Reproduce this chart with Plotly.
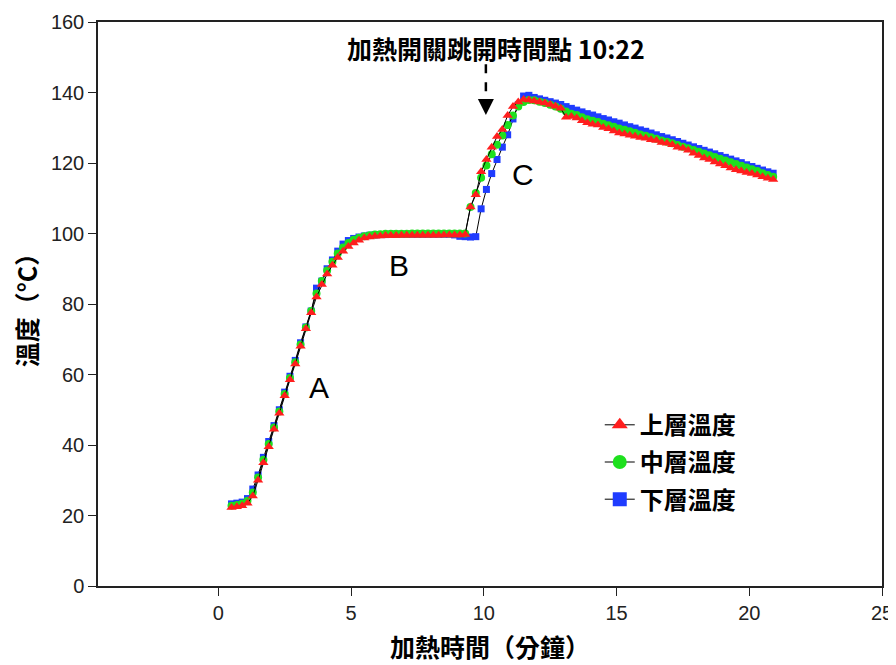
import plotly.graph_objects as go

# Heating time (minutes)
time_min = [0.5, 0.7, 0.9, 1.1, 1.3, 1.5, 1.7, 1.9, 2.1, 2.3,
            2.5, 2.7, 2.9, 3.1, 3.3, 3.5, 3.7, 3.9, 4.1, 4.3,
            4.5, 4.7, 4.9, 5.1, 5.3, 5.5, 5.7, 5.9, 6.1, 6.3,
            6.5, 6.7, 6.9, 7.1, 7.3, 7.5, 7.7, 7.9, 8.1, 8.3,
            8.5, 8.7, 8.9, 9.1, 9.3, 9.5, 9.7, 9.9, 10.1, 10.3,
            10.5, 10.7, 10.9, 11.1, 11.3, 11.5, 11.7, 11.9, 12.1, 12.3,
            12.5, 12.7, 12.9, 13.1, 13.3, 13.5, 13.7, 13.9, 14.1, 14.3,
            14.5, 14.7, 14.9, 15.1, 15.3, 15.5, 15.7, 15.9, 16.1, 16.3,
            16.5, 16.7, 16.9, 17.1, 17.3, 17.5, 17.7, 17.9, 18.1, 18.3,
            18.5, 18.7, 18.9, 19.1, 19.3, 19.5, 19.7, 19.9, 20.1, 20.3,
            20.5, 20.7, 20.9]

# 上層溫度 (top layer)
top_temp = [22.3, 22.5, 22.8, 23.5, 25.5, 30.0, 35.0, 39.5, 44.5, 49.0,
            54.0, 58.5, 63.0, 68.0, 73.0, 77.5, 82.0, 85.5, 88.5, 91.0,
            93.2, 95.0, 96.3, 97.3, 98.1, 98.7, 99.0, 99.2, 99.3, 99.4,
            99.4, 99.4, 99.5, 99.5, 99.5, 99.5, 99.5, 99.5, 99.5, 99.5,
            99.6, 99.6, 99.6, 99.6, 99.7, 107.5, 111.0, 117.5, 121.0, 124.5,
            127.5, 129.5, 133.5, 136.0, 137.3, 138.0, 137.9, 137.6, 137.3, 137.0,
            136.6, 136.1, 135.5, 133.0, 133.2, 132.8, 132.0, 131.4, 131.0, 130.8,
            130.1, 129.7, 129.1, 128.5, 128.2, 127.9, 127.6, 127.2, 127.0, 126.6,
            126.4, 125.8, 125.6, 125.2, 124.5, 124.2, 123.6, 122.8, 122.1, 121.4,
            121.0, 120.3, 119.7, 119.2, 118.6, 118.1, 117.7, 117.3, 117.0, 116.6,
            116.1, 115.7, 115.3]

# 中層溫度 (middle layer)
mid_temp = [22.8, 23.0, 23.3, 24.2, 26.5, 30.8, 35.8, 40.3, 45.0, 49.5,
            54.5, 59.0, 63.5, 68.5, 73.3, 78.0, 83.0, 86.5, 89.5, 92.0,
            94.3, 96.0, 97.3, 98.2, 98.8, 99.2, 99.5, 99.7, 99.8, 99.9,
            99.9, 99.9, 99.9, 99.9, 100.0, 100.0, 100.0, 100.0, 100.0, 100.0,
            100.0, 100.0, 100.0, 100.0, 100.0, 107.5, 111.5, 115.8, 119.3, 122.5,
            125.2, 127.8, 130.8, 133.5, 136.0, 137.3, 137.9, 137.8, 137.4, 137.0,
            136.5, 136.0, 135.4, 134.6, 134.0, 133.6, 133.0, 132.4, 132.0, 131.6,
            131.1, 130.7, 130.3, 129.8, 129.4, 129.0, 128.6, 128.1, 127.7, 127.3,
            126.9, 126.4, 126.0, 125.6, 125.1, 124.6, 124.2, 123.7, 123.2, 122.7,
            122.2, 121.7, 121.2, 120.7, 120.2, 119.7, 119.2, 118.7, 118.2, 117.7,
            117.1, 116.6, 116.1]

# 下層溫度 (bottom layer)
low_temp = [23.3, 23.5, 23.8, 24.8, 27.5, 31.5, 36.5, 41.0, 45.5, 50.0,
            55.0, 59.5, 64.0, 69.0, 73.5, 78.0, 84.5, 86.5, 90.0, 92.5,
            95.0, 97.0, 98.0, 98.6, 99.0, 99.3, 99.5, 99.6, 99.7, 99.7,
            99.8, 99.8, 99.8, 99.8, 99.8, 99.8, 99.8, 99.8, 99.8, 99.8,
            99.8, 99.8, 99.6, 99.2, 99.1, 99.0, 99.1, 107.0, 112.5, 117.0,
            121.0, 124.5, 128.0, 132.5, 136.5, 139.0, 139.2, 138.6, 138.2, 137.8,
            137.4, 137.0, 136.6, 136.0, 135.5, 135.0, 134.5, 134.0, 133.6, 133.1,
            132.6, 132.2, 131.7, 131.3, 130.8, 130.3, 129.9, 129.4, 129.0, 128.5,
            128.0, 127.5, 127.1, 126.6, 126.1, 125.6, 125.1, 124.6, 124.1, 123.6,
            123.1, 122.6, 122.1, 121.6, 121.1, 120.6, 120.1, 119.5, 119.0, 118.5,
            118.0, 117.5, 117.1]

series_names = ["上層溫度", "中層溫度", "下層溫度"]
x_ticks = [0, 5, 10, 15, 20, 25]
y_ticks = [0, 20, 40, 60, 80, 100, 120, 140, 160]

CJK = "Noto Sans CJK TC, Noto Sans CJK SC, sans-serif"
LAT = "Liberation Sans, Arial, sans-serif"
RED, GREEN, BLUE = "#ff1e1e", "#1ee01e", "#1f3cff"

fig = go.Figure()

# data traces: blue bottom, red on top
for name, ys, col, sym, sz in [
    (series_names[2], low_temp, BLUE, "square", 7),
    (series_names[1], mid_temp, GREEN, "circle", 8),
    (series_names[0], top_temp, RED, "triangle-up", 9),
]:
    fig.add_trace(go.Scatter(
        x=time_min, y=ys, mode="lines+markers", name=name, showlegend=False,
        line=dict(color="black", width=1),
        marker=dict(color=col, symbol=sym, size=sz, line=dict(width=0)),
    ))

# legend entries (larger symbols)
for i, (name, col, sym) in enumerate([
    (series_names[0], RED, "triangle-up"),
    (series_names[1], GREEN, "circle"),
    (series_names[2], BLUE, "square"),
]):
    fig.add_trace(go.Scatter(
        x=[None], y=[None], mode="lines+markers", name=name, legendgroup=f"g{i}",
        line=dict(color="black", width=1),
        marker=dict(color=col, symbol=sym, size=14, line=dict(width=0)),
    ))

# dashed arrow
fig.add_shape(type="line", x0=10.08, x1=10.08, y0=148, y1=138,
              line=dict(color="black", width=2.5, dash="dash"))
fig.add_annotation(x=10.08, y=133.6, ax=0, ay=-16, text="", showarrow=True,
                   arrowhead=2, arrowsize=1.6, arrowwidth=2, arrowcolor="black",
                   xref="x", yref="y")
fig.add_annotation(x=10.45, y=152.6, text="加熱開關跳開時間點 10:22", showarrow=False,
                   font=dict(family=CJK, size=25, color="black", weight="bold"),
                   xref="x", yref="y")

for lbl, lx, ly in [("A", 3.78, 56.2), ("B", 6.8, 91), ("C", 11.48, 116.6)]:
    fig.add_annotation(x=lx, y=ly, text=lbl, showarrow=False,
                       font=dict(family=LAT, size=30, color="black"))

# page body adds an 8px offset; margins compensate
fig.update_layout(
    width=896, height=665,
    margin=dict(l=90, r=22, t=14, b=87),
    paper_bgcolor="white", plot_bgcolor="white",
    showlegend=True,
    legend=dict(x=0.640, y=0.325, xanchor="left", yanchor="top",
                bgcolor="rgba(0,0,0,0)", traceorder="grouped", tracegroupgap=3,
                font=dict(family=CJK, size=24, color="black", weight="bold")),
    xaxis=dict(range=[-4.53, 25], tickvals=x_ticks, showgrid=False, zeroline=False,
               automargin=False,
               showline=True, linecolor="#222", linewidth=1.5, mirror=True,
               ticks="outside", ticklen=8, tickcolor="#222", tickwidth=1.2,
               tickfont=dict(family=LAT, size=20, color="#222"),
               title=dict(text="加熱時間（分鐘）", standoff=17,
                          font=dict(family=CJK, size=25, color="black", weight="bold"))),
    yaxis=dict(range=[0, 160], tickvals=y_ticks, showgrid=False, zeroline=False,
               automargin=False,
               showline=True, linecolor="#222", linewidth=1.5, mirror=True,
               ticks="outside", ticklen=8, tickcolor="#222", tickwidth=1.2,
               tickfont=dict(family=LAT, size=20, color="#222"),
               title=dict(text="溫度（°C）", standoff=12,
                          font=dict(family=CJK, size=25, color="black", weight="bold"))),
)

fig.write_html("out.html")
